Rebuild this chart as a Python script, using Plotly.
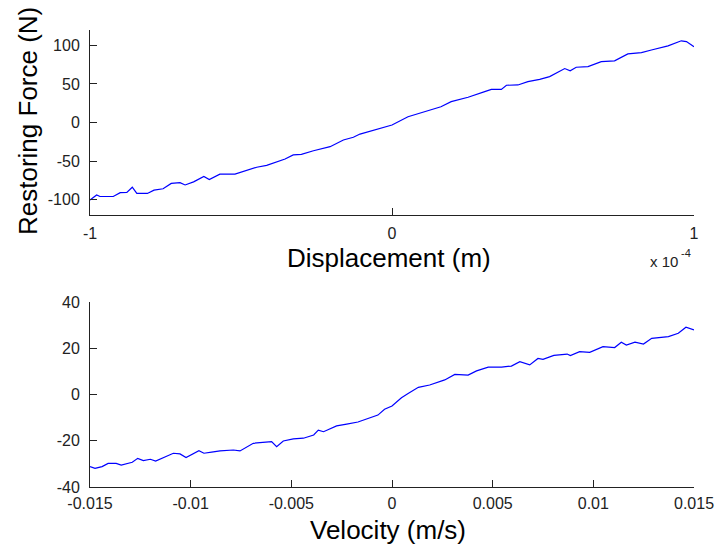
import plotly.graph_objects as go

# Restoring force vs displacement (displacement in units of 1e-4 m)
disp_e4 = [-1.0, -0.978, -0.967, -0.923, -0.90, -0.878, -0.86, -0.845, -0.81, -0.788,
           -0.758, -0.731, -0.702, -0.685, -0.657, -0.623, -0.605, -0.57, -0.52, -0.481,
           -0.448, -0.415, -0.382, -0.354, -0.327, -0.30, -0.26, -0.205, -0.161, -0.128,
           -0.106, 0.0, 0.053, 0.108, 0.162, 0.196, 0.252, 0.307, 0.329, 0.362,
           0.379, 0.417, 0.45, 0.489, 0.522, 0.572, 0.59, 0.61, 0.649, 0.693,
           0.737, 0.781, 0.826, 0.859, 0.914, 0.958, 0.975, 1.0]
force_disp = [-100.6, -94, -96, -96, -91, -90.6, -84, -92, -92, -87.7,
              -86, -79, -78, -81, -77, -70, -74, -67, -67, -62.6,
              -58, -55.6, -51, -47.4, -42, -41.3, -36.6, -31.4, -22.7, -19.2,
              -15, -3.2, 7.5, 14, 20.5, 27, 32.7, 40, 43, 43,
              48.3, 48.7, 53, 56, 59.5, 70, 67, 71.7, 72.5, 79,
              80, 89, 90.6, 94, 99.4, 106, 105, 98.4]

# Restoring force vs velocity
velocity = [-0.015, -0.01475, -0.0144, -0.0141, -0.0137, -0.01345, -0.0129, -0.01263, -0.01235, -0.0120,
            -0.01174, -0.01136, -0.01086, -0.01053, -0.01023, -0.00959, -0.00934, -0.00896, -0.00854, -0.00788,
            -0.00755, -0.00689, -0.00623, -0.00598, -0.00573, -0.0054, -0.0049, -0.0044, -0.00389, -0.00366,
            -0.0034, -0.00275, -0.00225, -0.00169, -0.0007, -0.00037, 0.0, 0.00047, 0.00082, 0.00131,
            0.00187, 0.00262, 0.00312, 0.00378, 0.0042, 0.00478, 0.00544, 0.00593, 0.00635, 0.00684,
            0.00725, 0.0075, 0.00804, 0.0087, 0.00886, 0.00932, 0.00982, 0.01048, 0.01106, 0.01139,
            0.01164, 0.01207, 0.01249, 0.0129, 0.01373, 0.01422, 0.0146, 0.015]
force_vel = [-31.2, -31.9, -31.2, -29.8, -29.8, -30.5, -29.3, -27.6, -28.6, -28,
             -28.8, -27.2, -25.4, -25.7, -27.3, -24.3, -25.4, -24.9, -24.4, -24,
             -24.4, -21.1, -20.7, -20.4, -22.6, -20.1, -19.2, -18.9, -17.5, -15.4,
             -16.1, -13.6, -12.8, -11.9, -8.9, -6.4, -5, -1.4, 0.5, 3.1,
             4.1, 6.3, 8.7, 8.4, 10.2, 11.8, 11.8, 12.3, 14.2, 12.8,
             15.6, 15.2, 16.9, 17.5, 16.8, 18.5, 18.2, 20.7, 20.3, 22.6,
             21.4, 22.6, 21.8, 24.3, 25, 26.5, 29.1, 27.9]

disp_ticks = [-1, 0, 1]
vel_ticks = [-0.015, -0.01, -0.005, 0, 0.005, 0.01, 0.015]
vel_ticktext = ["-0.015", "-0.01", "-0.005", "0", "0.005", "0.01", "0.015"]
fd_ticks = [-100, -50, 0, 50, 100]
fv_ticks = [-40, -20, 0, 20, 40]

W, H = 718, 550
FONT = "Liberation Sans, Arial, sans-serif"
line_color = "#0000ff"

fig = go.Figure()
fig.add_trace(go.Scatter(x=[d * 1e-4 for d in disp_e4], y=force_disp, mode="lines",
                         line=dict(color=line_color, width=1.2), xaxis="x", yaxis="y",
                         showlegend=False))
fig.add_trace(go.Scatter(x=velocity, y=force_vel, mode="lines",
                         line=dict(color=line_color, width=1.2), xaxis="x2", yaxis="y2",
                         showlegend=False))

x_dom = [90 / W, 694 / W]
axis_common = dict(showline=True, linecolor="#222222", linewidth=1, mirror=False,
                   ticks="inside", ticklen=7, tickcolor="#222222", showgrid=False,
                   zeroline=False, automargin=False,
                   tickfont=dict(family=FONT, size=16, color="#222222"))

fig.update_layout(
    width=W, height=H,
    margin=dict(l=0, r=0, t=0, b=0),
    paper_bgcolor="white", plot_bgcolor="white",
    xaxis=dict(domain=x_dom, anchor="y", range=[-1e-4, 1e-4],
               tickvals=[t * 1e-4 for t in disp_ticks], ticktext=[str(t) for t in disp_ticks],
               ticklabelstandoff=4, **axis_common),
    yaxis=dict(domain=[1 - 215 / H, 1 - 30 / H], anchor="x", range=[-120, 120],
               tickvals=fd_ticks, ticktext=[str(t) for t in fd_ticks],
               ticklabelstandoff=6, **axis_common),
    xaxis2=dict(domain=x_dom, anchor="y2", range=[-0.015, 0.015],
                tickvals=vel_ticks, ticktext=vel_ticktext, ticklabelstandoff=2, **axis_common),
    yaxis2=dict(domain=[1 - 487 / H, 1 - 302 / H], anchor="x2", range=[-40, 40],
                tickvals=fv_ticks, ticktext=[str(t) for t in fv_ticks],
                ticklabelstandoff=6, **axis_common),
)

title_font = dict(family=FONT, size=26, color="black")
fig.add_annotation(text="Restoring Force (N)", x=28 / W, y=1 - 121 / H, xref="paper", yref="paper",
                   textangle=-90, showarrow=False, font=title_font, xanchor="center", yanchor="middle")
fig.add_annotation(text="Displacement (m)", x=389 / W, y=1 - 258 / H, xref="paper", yref="paper",
                   showarrow=False, font=title_font, xanchor="center", yanchor="middle")
fig.add_annotation(text="Velocity (m/s)", x=388 / W, y=1 - 530 / H, xref="paper", yref="paper",
                   showarrow=False, font=title_font, xanchor="center", yanchor="middle")
# axis multiplier for the displacement axis, drawn as base and exponent
fig.add_annotation(text="x 10", x=680 / W, y=1 - 261 / H, xref="paper", yref="paper",
                   showarrow=False, font=dict(family=FONT, size=15, color="#222222"),
                   xanchor="right", yanchor="middle")
fig.add_annotation(text="-4", x=679 / W, y=1 - 253 / H, xref="paper", yref="paper",
                   showarrow=False, font=dict(family=FONT, size=11, color="#222222"),
                   xanchor="left", yanchor="middle")

fig.write_html("out.html")
